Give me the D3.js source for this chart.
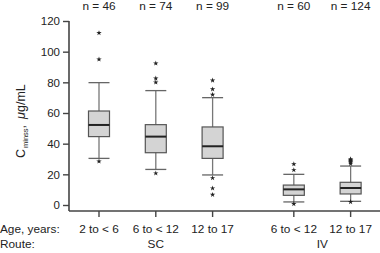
<!DOCTYPE html>
<html>
<head>
<meta charset="utf-8">
<script src="https://cdn.jsdelivr.net/npm/d3@7"></script>
<style>
  body { margin: 0; background: #fff; }
  text { font-family: "Liberation Sans", Arial, sans-serif; fill: #222; }
</style>
</head>
<body>
<div id="chart"></div>
<script>
const chartWidth = 380
const chartHeight = 253

// data
const ageGroups = ['2 to < 6', '6 to < 12', '12 to 17', '6 to < 12', '12 to 17']
const routes = ['SC', 'SC', 'SC', 'IV', 'IV']
const counts = [46, 74, 99, 60, 124]
const whiskerLow = [30.4, 23.2, 19.6, 2.0, 2.4]
const q1 = [44.6, 34.1, 30.4, 6.3, 7.2]
const medians = [52.2, 44.6, 38.3, 10.2, 11.1]
const q3 = [61.3, 52.4, 50.9, 13.0, 14.8]
const whiskerHigh = [79.8, 74.6, 70.0, 20.0, 25.4]
const outliers = [
    [28.5, 95, 112.2],
    [20.7, 80, 82.6, 92.4],
    [6.7, 10.9, 17.6, 72, 75.5, 81.3],
    [0.7, 22.8, 26.7],
    [2.0, 27, 28, 28.7, 29.4, 30]
]
const yTicks = [0, 20, 40, 60, 80, 100, 120]
// slot of each box along the x axis (IV group sits after a gap)
const slots = [0, 1, 2, 3.43, 4.43]

const svg = d3.select('#chart')
    .append('svg')
    .attr('width', chartWidth)
    .attr('height', chartHeight)

const xScale = d3.scaleLinear()
    .domain([0, 1])
    .range([99, 155.8])

const yScale = d3.scaleLinear()
    .domain([0, 120])
    .range([205, 21])

const axisY = 211
const axisX = 69
const boxW = 21
const axisColor = '#444'
const labelSize = '11.8px'

// y axis
const yAxis = d3.axisLeft(yScale).tickValues(yTicks).tickSize(6).tickPadding(3)
const gy = svg.append('g')
    .attr('transform', `translate(${axisX}, 0)`)
    .call(yAxis)
gy.select('.domain').remove()
gy.selectAll('line').attr('stroke', axisColor).attr('stroke-width', 1.4)
gy.selectAll('text').style('font-size', '11.5px').attr('fill', '#222')
svg.append('line')
    .attr('x1', axisX).attr('x2', axisX)
    .attr('y1', yScale(120)).attr('y2', axisY)
    .attr('stroke', axisColor).attr('stroke-width', 1.6)

// x axis
svg.append('line')
    .attr('x1', axisX).attr('x2', chartWidth)
    .attr('y1', axisY).attr('y2', axisY)
    .attr('stroke', axisColor).attr('stroke-width', 1.6)

const groups = svg.selectAll('g.box')
    .data(ageGroups.map((a, i) => i))
    .enter()
    .append('g')
    .attr('class', 'box')
    .attr('transform', i => `translate(${xScale(slots[i])}, 0)`)

// tick under each box
groups.append('line')
    .attr('y1', axisY).attr('y2', axisY + 6)
    .attr('stroke', axisColor).attr('stroke-width', 1.4)

// whisker stems
groups.append('line')
    .attr('y1', i => yScale(whiskerLow[i])).attr('y2', i => yScale(whiskerHigh[i]))
    .attr('stroke', '#777').attr('stroke-width', 1.3)

// caps
groups.selectAll('line.cap')
    .data(i => [whiskerLow[i], whiskerHigh[i]])
    .enter()
    .append('line')
    .attr('class', 'cap')
    .attr('x1', -boxW / 2).attr('x2', boxW / 2)
    .attr('y1', d => yScale(d)).attr('y2', d => yScale(d))
    .attr('stroke', '#666').attr('stroke-width', 1.3)

// boxes
groups.append('rect')
    .attr('x', -boxW / 2)
    .attr('width', boxW)
    .attr('y', i => yScale(q3[i]))
    .attr('height', i => yScale(q1[i]) - yScale(q3[i]))
    .attr('fill', '#d4d4d4')
    .attr('stroke', '#555')
    .attr('stroke-width', 1.2)

// medians
groups.append('line')
    .attr('x1', -boxW / 2).attr('x2', boxW / 2)
    .attr('y1', i => yScale(medians[i])).attr('y2', i => yScale(medians[i]))
    .attr('stroke', '#222').attr('stroke-width', 2)

// outliers
groups.selectAll('path.out')
    .data(i => outliers[i])
    .enter()
    .append('path')
    .attr('class', 'out')
    .attr('d', d3.symbol(d3.symbolStar, 9))
    .attr('transform', d => `translate(0, ${yScale(d)})`)
    .attr('fill', '#222')

// n labels
groups.append('text')
    .attr('y', 10)
    .attr('text-anchor', 'middle')
    .style('font-size', labelSize)
    .text(i => `n = ${counts[i]}`)

// age labels
groups.append('text')
    .attr('y', 233)
    .attr('text-anchor', 'middle')
    .style('font-size', labelSize)
    .text(i => ageGroups[i])

// route labels, centred under each route's boxes
const routeNames = Array.from(new Set(routes))
svg.selectAll('text.route')
    .data(routeNames)
    .enter()
    .append('text')
    .attr('class', 'route')
    .attr('x', r => d3.mean(slots.filter((s, i) => routes[i] === r).map(s => xScale(s))))
    .attr('y', 248)
    .attr('text-anchor', 'middle')
    .style('font-size', labelSize)
    .text(r => r)

svg.append('text').attr('x', 0).attr('y', 233).style('font-size', labelSize).text('Age, years:')
svg.append('text').attr('x', 0).attr('y', 248).style('font-size', labelSize).text('Route:')

// y title
const title = svg.append('text')
    .attr('transform', 'translate(25, 158) rotate(-90)')
    .attr('text-anchor', 'start')
    .style('font-size', '12.5px')
title.append('tspan').text('C')
title.append('tspan').attr('dy', 3).attr('dx', 1).style('font-size', '7.5px').text('minss')
title.append('tspan').attr('dy', -3).text(',')
title.append('tspan').attr('dx', 6).style('font-style', 'italic').text('μ')
title.append('tspan').text('g/mL')
</script>
</body>
</html>
